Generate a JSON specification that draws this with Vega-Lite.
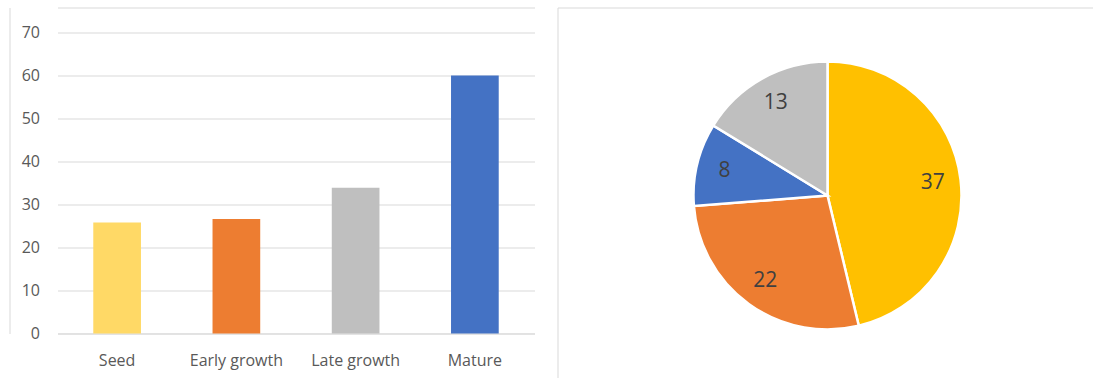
{
  "$schema": "https://vega.github.io/schema/vega-lite/v6.json",
  "padding": {"left": 9.5, "top": 6.5, "right": 0, "bottom": 0},
  "background": "white",
  "config": {"view": {"stroke": null}, "font": "Open Sans"},
  "spacing": 22,
  "resolve": {"scale": {"color": "independent"}},
  "hconcat": [
    {
      "width": 477,
      "height": 326,
      "data": {"values": [
        {"stage": "Seed", "value": 25.8},
        {"stage": "Early growth", "value": 26.6},
        {"stage": "Late growth", "value": 33.9},
        {"stage": "Mature", "value": 60}
      ]},
      "layer": [
        {
          "mark": {"type": "bar"},
          "encoding": {
            "x": {"field": "stage", "type": "nominal", "sort": null,
              "scale": {"paddingInner": 0.6, "paddingOuter": 0.3},
              "axis": {"title": null, "labelAngle": 0, "labelFont": "Open Sans", "labelFontSize": 16, "labelColor": "#595959", "labelPadding": 19, "ticks": false, "tickSize": 0, "domainColor": "#d9d9d9", "grid": false}},
            "y": {"field": "value", "type": "quantitative",
              "scale": {"domain": [0, 75.81], "nice": false},
              "axis": {"title": null, "values": [0, 10, 20, 30, 40, 50, 60, 70], "offset": 48, "labelPadding": -30, "tickSize": 0, "ticks": false, "domain": true, "domainColor": "#d9d9d9", "gridColor": "#d9d9d9", "labelFont": "Open Sans", "labelFontSize": 16, "labelColor": "#595959"}},
            "color": {"field": "stage", "type": "nominal", "sort": null,
              "scale": {"domain": ["Seed", "Early growth", "Late growth", "Mature"], "range": ["#FFD966", "#ED7D31", "#BFBFBF", "#4472C4"]},
              "legend": null}
          }
        },
        {
          "mark": {"type": "bar", "opacity": 0},
          "encoding": {
            "x": {"field": "stage", "type": "nominal", "sort": null,
              "axis": {"orient": "top", "labels": false, "ticks": false, "title": null, "domainColor": "#d9d9d9", "grid": false}}
          }
        }
      ],
      "resolve": {"axis": {"x": "independent"}}
    },
    {
      "width": 540,
      "height": 376,
      "view": {"stroke": "#d9d9d9"},
      "data": {"values": [
        {"part": "Slice 1", "value": 37, "k": 1},
        {"part": "Slice 2", "value": 22, "k": 2},
        {"part": "Slice 3", "value": 8, "k": 3},
        {"part": "Slice 4", "value": 13, "k": 4}
      ]},
      "encoding": {
        "theta": {"field": "value", "type": "quantitative", "stack": true},
        "order": {"field": "k", "type": "quantitative"}
      },
      "layer": [
        {
          "mark": {"type": "arc", "outerRadius": 134, "stroke": "white", "strokeWidth": 2.5},
          "encoding": {
            "color": {"field": "part", "type": "nominal",
              "scale": {"domain": ["Slice 1", "Slice 2", "Slice 3", "Slice 4"], "range": ["#FFC000", "#ED7D31", "#4472C4", "#BFBFBF"]},
              "legend": null}
          }
        },
        {
          "mark": {"type": "text", "radius": 106, "font": "Open Sans", "fontSize": 21, "fill": "#404040"},
          "encoding": {
            "text": {"field": "value", "type": "quantitative"},
            "detail": {"field": "part", "type": "nominal"}
          }
        }
      ]
    }
  ]
}
